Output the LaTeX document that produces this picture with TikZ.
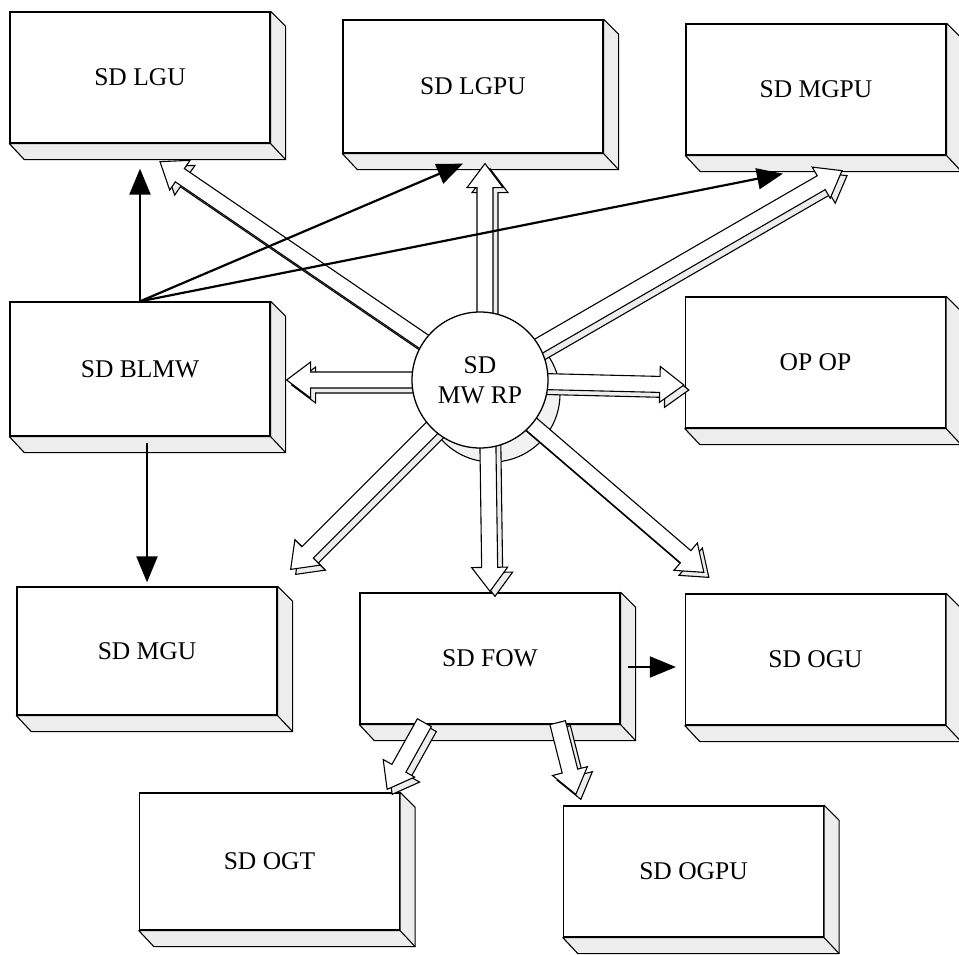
\documentclass[tikz,border=0pt]{standalone}
\usepackage{fontspec}
\setmainfont{Liberation Serif}
\usetikzlibrary{calc,arrows.meta}
\tikzset{
  slab/.style={draw, line width=1.3pt, minimum width=260pt, minimum height=131pt, inner sep=0pt, font=\fontsize{25.5}{30}\selectfont},
  bevel/.style={draw, line width=1.1pt, fill=gray!14, line join=round},
  hubdisc/.style={circle, draw, fill=white, line width=1.3pt, minimum size=136pt, inner sep=0pt, align=center, font=\fontsize{25.5}{30}\selectfont},
  hubback/.style={draw, line width=1.1pt, fill=gray!10},
  thinarrow/.style={line width=2.2pt, -{Triangle[length=26pt,width=21pt]}},
  blk/.style={draw, line width=1.1pt, line join=miter},
}
\newcommand\blkarrow[2]{%
  \foreach \dx/\dy/\fc in {5/-5/gray!14, 0/0/white}{
    \draw[blk, fill=\fc] let \p1=($(#1)+(\dx,\dy)$), \p2=($(#2)+(\dx,\dy)$),
      \n1={atan2(\y2-\y1,\x2-\x1)}, \n2={veclen(\x2-\x1,\y2-\y1)-24} in
      ($(\p1)+({\n1+90}:8)$) -- ($(\p1)+(\n1:\n2)+({\n1+90}:8)$) -- ($(\p1)+(\n1:\n2)+({\n1+90}:18)$)
      -- (\p2) -- ($(\p1)+(\n1:\n2)+({\n1-90}:18)$) -- ($(\p1)+(\n1:\n2)+({\n1-90}:8)$)
      -- ($(\p1)+({\n1-90}:8)$) -- cycle;
  }}
\begin{document}
\begin{tikzpicture}[x=1pt,y=1pt]
\useasboundingbox (0,0) rectangle (959,-954);
% boxes
\node[slab] (lgu)  at (140,-77.5)   {SD LGU};
\node[slab, minimum height=133pt] (lgpu) at (473,-86.5) {SD LGPU};
\node[slab] (mgpu) at (816,-89.5)   {SD MGPU};
\node[slab, minimum height=134pt] (blmw) at (140,-369) {SD BLMW};
\node[slab] (opop) at (815.5,-362.5) {OP OP};
\node[slab, minimum height=128pt] (mgu)  at (147,-651) {SD MGU};
\node[slab] (fow)  at (490,-658.5)  {SD FOW};
\node[slab] (ogu)  at (815.5,-659.5) {SD OGU};
\node[slab, minimum height=137pt] (ogt)  at (269.5,-861.5) {SD OGT};
\node[slab] (ogpu) at (693.5,-871.5) {SD OGPU};
\foreach \b in {lgu,lgpu,mgpu,blmw,opop,mgu,fow,ogu,ogt,ogpu}{
  \draw[bevel] (\b.north east) -- ++(15,-15) -- ($(\b.south east)+(15,-16)$)
     -- ($(\b.south west)+(15,-16)$) -- (\b.south west) -- (\b.south east) -- cycle;
  \draw[line width=1.1pt] (\b.south east) -- ++(15,-16);
}
% hub back disc
\coordinate (hubc) at (480,-380);
\draw[hubback] ($(hubc)+(12,-14)$) circle (68);
% block arrows from hub
\blkarrow{$(hubc)+(5,0)$}{$(lgpu.south)+(12,-10)$}
\blkarrow{hubc}{$(lgu.south)+(20,-18)$}
\blkarrow{hubc}{$(mgpu.south)+(26,-15)$}
\blkarrow{hubc}{$(blmw.east)+(16,-11)$}
\blkarrow{hubc}{$(opop.west)+(-1,-22.5)$}
\blkarrow{hubc}{$(mgu.north east)+(13,17)$}
\blkarrow{$(hubc)+(7,0)$}{$(fow.north)+(0,1)$}
\blkarrow{hubc}{$(ogu.north west)+(19,21)$}
% hub
\node[hubdisc] (hub) at (hubc) {SD\\MW RP};
% block arrows from FOW
\blkarrow{$(fow.south west)+(65,2)$}{$(ogt.north east)+(-13,3)$}
\blkarrow{$(fow.south east)+(-63,2)$}{$(ogpu.north west)+(13,11)$}
% thin arrows
\draw[thinarrow] (blmw.north) -- ($(lgu.south)+(0,-25)$);
\draw[thinarrow] (blmw.north) -- ($(lgpu.south)+(-10,-10)$);
\draw[thinarrow] (blmw.north) -- ($(mgpu.south)+(-33,-18)$);
\draw[thinarrow] ($(blmw.south)+(7,-6)$) -- ($(mgu.north)+(0,4)$);
\draw[thinarrow] ($(fow.east)+(7,-8.5)$) -- ($(ogu.west)+(-9,-7.5)$);
\end{tikzpicture}
\end{document}
